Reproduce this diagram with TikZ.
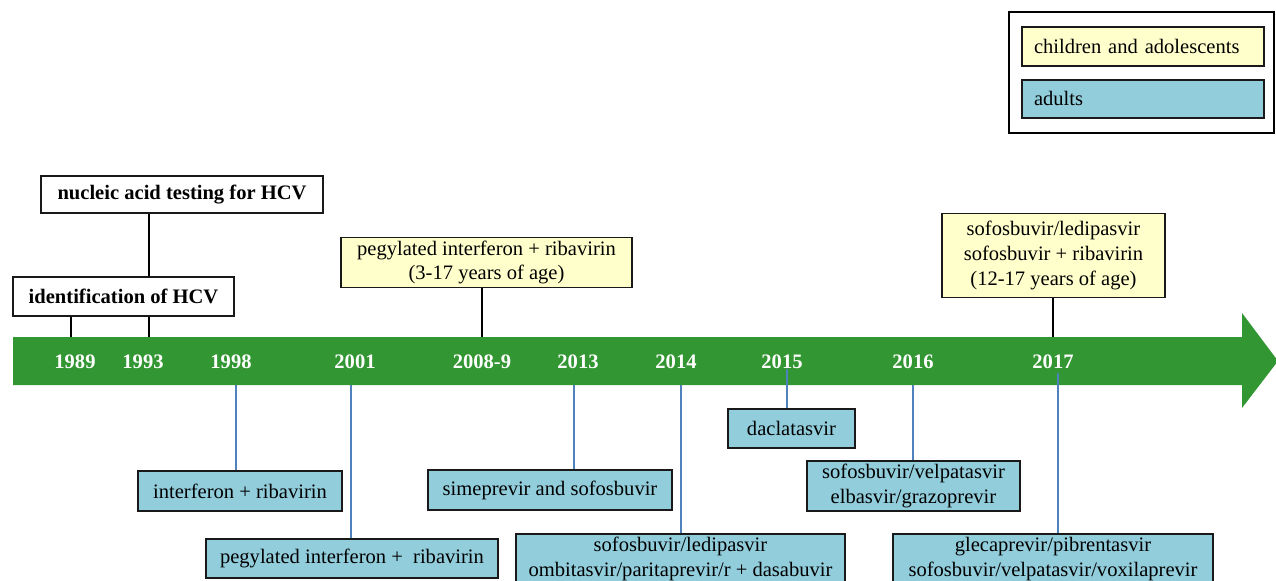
\documentclass[tikz,border=0pt]{standalone}
\usepackage{fontspec}
\setmainfont{Liberation Serif}
\usepackage{xcolor}
\definecolor{timeline}{RGB}{50,150,50}
\definecolor{kidyellow}{RGB}{255,255,204}
\definecolor{adultblue}{RGB}{146,205,220}
\definecolor{stemblue}{RGB}{79,129,189}
\definecolor{boxline}{RGB}{25,25,25}
\usepackage{tikz}
\usetikzlibrary{positioning}

\begin{document}
\begin{tikzpicture}[
  x=0.02cm, y=-0.02cm,
  every node/.style={font=\fontsize{11.7}{14}\selectfont},
  box/.style={draw=boxline, line width=1pt, align=center, inner xsep=0pt, inner ysep=0.5pt},
  event/.style={box, fill=white, font=\fontsize{11.7}{14}\selectfont\bfseries},
  kids/.style={box, fill=kidyellow},
  adults/.style={box, fill=adultblue},
  year/.style={text=white, font=\fontsize{11.7}{14}\selectfont\bfseries, inner sep=1pt},
  topstem/.style={draw=black, line width=0.8pt},
  botstem/.style={draw=stemblue, line width=0.8pt}
]
\useasboundingbox (0,0) rectangle (1276,581);

% timeline arrow
\fill[timeline] (13,337) -- (1242,337) -- (1242,313) -- (1278,361) -- (1242,408) -- (1242,385) -- (13,385) -- cycle;

\foreach \x/\yr in {75/1989, 143/1993, 231/1998, 355/2001, 482/2008-9, 578/2013, 676/2014, 782/2015, 913/2016, 1053/2017}
  \node[year] (y\yr) at (\x,362) {\yr};

% stem points on the arrow
\coordinate (s1989) at (71,337);
\coordinate (s1993) at (149,337);
\coordinate (s2008) at (482,337);
\coordinate (s2017) at (1053,337);
\coordinate (b1998) at (236,385);
\coordinate (b2001) at (351,385);
\coordinate (b2013) at (574,385);
\coordinate (b2014) at (681,385);
\coordinate (b2015) at (787,369);
\coordinate (b2016) at (913,385);
\coordinate (b2017) at (1058,373);

% events above
\node[event, minimum width=5.64cm, minimum height=0.74cm] (nuc) at (182,194.5) {nucleic acid testing for HCV};
\node[event, minimum width=4.42cm, minimum height=0.78cm] (ident) at (123.5,296.5) {identification of HCV};
\node[kids, minimum width=5.82cm, minimum height=1.0cm] (pegkids) at (486.5,262.5) {pegylated interferon + ribavirin\\(3-17 years of age)};
\node[kids, minimum width=4.46cm, minimum height=1.68cm] (sofkids) at (1053.5,255.5) {sofosbuvir/ledipasvir\\sofosbuvir + ribavirin\\(12-17 years of age)};

% approvals below
\node[adults, minimum width=4.08cm, minimum height=0.8cm] (ifr) at (240,491) {interferon + ribavirin};
\node[adults, minimum width=5.84cm, minimum height=0.78cm] (pif) at (352,558.5) {pegylated interferon +\ \ ribavirin};
\node[adults, minimum width=4.88cm, minimum height=0.8cm] (sim) at (550,490) {simeprevir and sofosbuvir};
\node[adults, minimum width=6.58cm, minimum height=1.0cm] (sld) at (680.5,559) {sofosbuvir/ledipasvir\\ombitasvir/paritaprevir/r + dasabuvir};
\node[adults, minimum width=2.54cm, minimum height=0.78cm] (dcl) at (791.5,428.5) {daclatasvir};
\node[adults, minimum width=4.26cm, minimum height=1.0cm] (svg) at (913.5,486) {sofosbuvir/velpatasvir\\elbasvir/grazoprevir};
\node[adults, minimum width=6.4cm, minimum height=1.0cm] (gle) at (1053,559) {glecaprevir/pibrentasvir\\sofosbuvir/velpatasvir/voxilaprevir};

% stems
\draw[topstem] (s1989) -- (s1989 |- ident.south);
\draw[topstem] (s1993) -- (s1993 |- ident.south);
\draw[topstem] (s1993 |- ident.north) -- (s1993 |- nuc.south);
\draw[topstem] (s2008) -- (s2008 |- pegkids.south);
\draw[topstem] (s2017) -- (s2017 |- sofkids.south);
\foreach \c/\n in {b1998/ifr, b2001/pif, b2013/sim, b2014/sld, b2015/dcl, b2016/svg, b2017/gle}
  \draw[botstem] (\c) -- (\c |- \n.north);

% legend
\node[draw=black, line width=0.8pt, minimum width=5.3cm, minimum height=2.42cm] (legend) at (1141.5,72.5) {};
\node[kids, text width=4.36cm, inner xsep=0.24cm, align=left, minimum height=0.78cm] (legkids) at (1143,46.5) {children and adolescents};
\node[adults, text width=4.36cm, inner xsep=0.24cm, align=left, minimum height=0.76cm, below=0.24cm of legkids] (legadults) {adults};
\end{tikzpicture}
\end{document}
